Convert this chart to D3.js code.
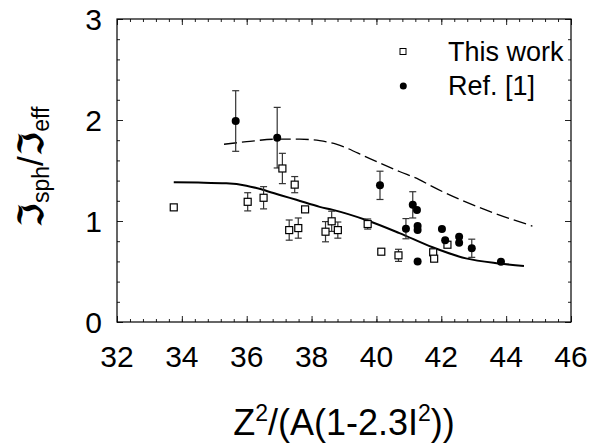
<!DOCTYPE html>
<html>
<head>
<meta charset="utf-8">
<script src="https://cdn.jsdelivr.net/npm/d3@7"></script>
<style>
  body { margin: 0; background: #fff; }
  text { font-family: "Liberation Sans", Arial, sans-serif; fill: #000; }
</style>
</head>
<body>
<div></div>
<script>
var width = 591;
var height = 446;

// this work: x, y, error
var workX = [33.75, 36.03, 36.52, 37.10, 37.31, 37.48, 37.59, 37.80, 38.43, 38.62, 38.81, 39.73, 40.15, 40.68, 41.75, 41.78, 42.19];
var workY = [1.135, 1.19, 1.23, 1.52, 0.91, 1.36, 0.93, 1.115, 0.894, 0.997, 0.91, 0.97, 0.696, 0.66, 0.69, 0.627, 0.765];
var workErr = [0, 0.09, 0.11, 0.15, 0.10, 0.08, 0.10, 0, 0.10, 0.10, 0.08, 0.05, 0.02, 0.06, 0, 0, 0];

// ref. [1]
var refX = [35.66, 36.94, 40.11, 40.91, 41.12, 41.25, 41.27, 41.27, 41.27, 42.02, 42.12, 42.55, 42.55, 42.94, 43.84];
var refY = [1.99, 1.825, 1.353, 0.924, 1.16, 1.11, 0.95, 0.91, 0.60, 0.92, 0.81, 0.845, 0.785, 0.73, 0.597];
var refErr = [0.30, 0.30, 0.14, 0.10, 0.13, 0, 0, 0, 0, 0, 0, 0, 0, 0.09, 0];

// calculations
var solidX = [33.75, 34.5, 35.37, 35.99, 36.49, 37.1, 37.53, 38.25, 38.66, 39.68, 40.71, 41.73, 42.76, 43.78, 44.55];
var solidY = [1.383, 1.38, 1.373, 1.35, 1.31, 1.25, 1.21, 1.14, 1.11, 1.01, 0.88, 0.74, 0.63, 0.58, 0.555];
var dashX = [35.30, 36.0, 36.91, 37.63, 38.25, 38.76, 39.78, 40.71, 41.32, 41.73, 43.37, 44.81];
var dashY = [1.76, 1.785, 1.81, 1.81, 1.795, 1.76, 1.62, 1.49, 1.41, 1.34, 1.11, 0.95];

var xTicks = [32, 34, 36, 38, 40, 42, 44, 46];
var yTicks = [0, 1, 2, 3];

var pLeft = 117, pRight = 571, pTop = 19, pBottom = 322;

var svg = d3.select("div")
	.append("svg")
	.attr("width", width)
	.attr("height", height);

var x = d3.scaleLinear().domain([32, 46]).range([pLeft, pRight]);
var y = d3.scaleLinear().domain([0, 3]).range([pBottom, pTop]);

var xMinor = d3.range(32, 46.01, 0.4);
var yMinor = d3.range(0, 3.01, 0.2);

function drawTicks(axis, tr, vals, size) {
	svg.append("g")
		.attr("transform", tr)
		.call(axis.tickValues(vals).tickSize(size).tickFormat(""))
		.call(g => g.select(".domain").remove())
		.call(g => g.selectAll("line").attr("stroke", "#222").attr("stroke-width", 1));
}

drawTicks(d3.axisBottom(x), "translate(0," + pBottom + ")", xMinor, -3);
drawTicks(d3.axisBottom(x), "translate(0," + pBottom + ")", xTicks, -6);
drawTicks(d3.axisTop(x), "translate(0," + pTop + ")", xMinor, -3);
drawTicks(d3.axisTop(x), "translate(0," + pTop + ")", xTicks, -6);
drawTicks(d3.axisLeft(y), "translate(" + pLeft + ",0)", yMinor, -3);
drawTicks(d3.axisLeft(y), "translate(" + pLeft + ",0)", yTicks, -6);
drawTicks(d3.axisRight(y), "translate(" + pRight + ",0)", yMinor, -3);
drawTicks(d3.axisRight(y), "translate(" + pRight + ",0)", yTicks, -6);

svg.append("rect")
	.attr("x", pLeft).attr("y", pTop)
	.attr("width", pRight - pLeft).attr("height", pBottom - pTop)
	.attr("fill", "none").attr("stroke", "#000").attr("stroke-width", 1.2);

// tick labels
svg.append("g").selectAll("text")
	.data(xTicks)
	.enter()
	.append("text")
	.attr("x", d => x(d))
	.attr("y", 367)
	.attr("text-anchor", "middle")
	.attr("font-size", 30)
	.text(d => d);

svg.append("g").selectAll("text")
	.data(yTicks)
	.enter()
	.append("text")
	.attr("x", 102)
	.attr("y", d => y(d) + 11)
	.attr("text-anchor", "end")
	.attr("font-size", 30)
	.text(d => d);

// lines
var line = d3.line().x(d => x(d[0])).y(d => y(d[1])).curve(d3.curveMonotoneX);

svg.append("path")
	.attr("d", line(d3.zip(dashX, dashY)))
	.attr("fill", "none").attr("stroke", "#000").attr("stroke-width", 1.3)
	.attr("stroke-dasharray", "13,5");

svg.append("path")
	.attr("d", line(d3.zip(solidX, solidY)))
	.attr("fill", "none").attr("stroke", "#000").attr("stroke-width", 2);

// error bars
function errorBars(xs, ys, es) {
	var data = d3.zip(xs, ys, es).filter(d => d[2] > 0);
	var g = svg.append("g").attr("stroke", "#333").attr("stroke-width", 1.2);
	g.selectAll(".v").data(data).enter().append("line")
		.attr("x1", d => x(d[0])).attr("x2", d => x(d[0]))
		.attr("y1", d => y(d[1] - d[2])).attr("y2", d => y(d[1] + d[2]));
	g.selectAll(".t").data(data).enter().append("line")
		.attr("x1", d => x(d[0]) - 3.5).attr("x2", d => x(d[0]) + 3.5)
		.attr("y1", d => y(d[1] + d[2])).attr("y2", d => y(d[1] + d[2]));
	g.selectAll(".b").data(data).enter().append("line")
		.attr("x1", d => x(d[0]) - 3.5).attr("x2", d => x(d[0]) + 3.5)
		.attr("y1", d => y(d[1] - d[2])).attr("y2", d => y(d[1] - d[2]));
}
errorBars(workX, workY, workErr);
errorBars(refX, refY, refErr);

svg.append("g").selectAll("rect")
	.data(d3.zip(workX, workY))
	.enter()
	.append("rect")
	.attr("x", d => x(d[0]) - 3.5)
	.attr("y", d => y(d[1]) - 3.5)
	.attr("width", 7).attr("height", 7)
	.attr("fill", "#fff").attr("stroke", "#000").attr("stroke-width", 1.2);

svg.append("g").selectAll("circle")
	.data(d3.zip(refX, refY))
	.enter()
	.append("circle")
	.attr("cx", d => x(d[0]))
	.attr("cy", d => y(d[1]))
	.attr("r", 4)
	.attr("fill", "#000");

// legend
svg.append("rect").attr("x", 400).attr("y", 48.5).attr("width", 6).attr("height", 6)
	.attr("fill", "#fff").attr("stroke", "#000").attr("stroke-width", 1);
svg.append("circle").attr("cx", 403.3).attr("cy", 86).attr("r", 3.5).attr("fill", "#000");
svg.append("text").attr("x", 448).attr("y", 61).attr("font-size", 27).text("This work");
svg.append("text").attr("x", 448).attr("y", 95).attr("font-size", 27).text("Ref. [1]");

// axis titles
var xt = svg.append("text")
	.attr("x", 344).attr("y", 435)
	.attr("text-anchor", "middle")
	.attr("font-size", 36);
xt.append("tspan").text("Z");
xt.append("tspan").attr("dy", -14).attr("font-size", 23).text("2");
xt.append("tspan").attr("dy", 14).text("/(A(1-2.3I");
xt.append("tspan").attr("dy", -14).attr("font-size", 23).text("2");
xt.append("tspan").attr("dy", 14).text("))");

var yt = svg.append("text")
	.attr("transform", "translate(43,167) rotate(-90)")
	.attr("text-anchor", "middle")
	.attr("font-size", 35);
yt.append("tspan").attr("font-family", "DejaVu Serif, DejaVu Sans, serif").attr("font-weight", "bold").text("\u2111");
yt.append("tspan").attr("dy", 6).attr("font-size", 23).text("sph");
yt.append("tspan").attr("dy", -6).text("/");
yt.append("tspan").attr("font-family", "DejaVu Serif, DejaVu Sans, serif").attr("font-weight", "bold").text("\u2111");
yt.append("tspan").attr("dy", 6).attr("font-size", 23).text("eff");
</script>
</body>
</html>
